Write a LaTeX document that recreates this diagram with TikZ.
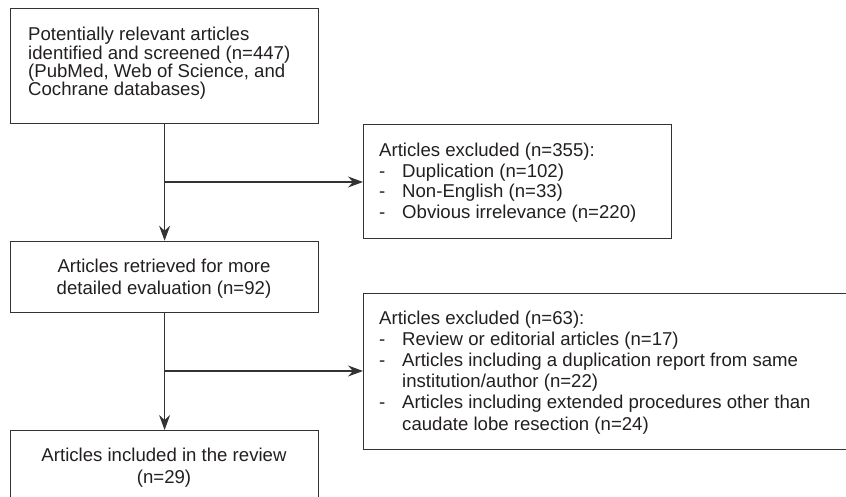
\documentclass[tikz,border=0pt]{standalone}
\usepackage{fontspec}
\setmainfont{Liberation Sans}
\usetikzlibrary{arrows.meta}
\definecolor{ln}{HTML}{333333}
\definecolor{tx}{HTML}{231F20}
\begin{document}
\begin{tikzpicture}[x=1pt,y=-1pt,
  box/.style={draw=ln, line width=1.2pt, rectangle, inner sep=0pt, anchor=north west},
  txt/.style={text=tx, inner sep=0pt, align=left, anchor=base west},
  ctxt/.style={text=tx, inner sep=0pt, align=center, anchor=base},
  arr/.style={draw=ln, line width=1.2pt, -{Stealth[length=15pt,width=11pt,inset=5pt]}}]
\useasboundingbox (0,0) rectangle (846,497);
\clip (0,0) rectangle (846,497);
% boxes
\node[box, minimum width=308pt, minimum height=115pt] (top) at (10,8) {};
\node[box, minimum width=308pt, minimum height=114pt] (ex1) at (363,124) {};
\node[box, minimum width=308pt, minimum height=71pt] (ret) at (10,240.7) {};
\node[box, minimum width=560pt, minimum height=156pt] (ex2) at (363,293) {};
\node[box, minimum width=308pt, minimum height=110pt] (inc) at (10,430) {};
% texts (anchored at the baseline of the last line)
\node[txt, font=\fontsize{18.6}{18.4}\selectfont] (ttop) at (28,96)
  {Potentially relevant articles\\identified and screened (n=447)\\(PubMed, Web of Science, and\\Cochrane databases)};
\node[txt, font=\fontsize{18.6}{20.5}\selectfont] (tex1) at (379,218.3)
  {Articles excluded (n=355):\\\makebox[23pt][l]{-}Duplication (n=102)\\\makebox[23pt][l]{-}Non-English (n=33)\\\makebox[23pt][l]{-}Obvious irrelevance (n=220)};
\node[ctxt, font=\fontsize{18.6}{21.7}\selectfont] (tret) at (164,294)
  {Articles retrieved for more\\detailed evaluation (n=92)};
\node[txt, font=\fontsize{18.6}{21.1}\selectfont] (tex2) at (379,430)
  {Articles excluded (n=63):\\\makebox[23pt][l]{-}Review or editorial articles (n=17)\\\makebox[23pt][l]{-}Articles including a duplication report from same\\\hspace*{23pt}institution/author (n=22)\\\makebox[23pt][l]{-}Articles including extended procedures other than\\\hspace*{23pt}caudate lobe resection (n=24)};
\node[ctxt, font=\fontsize{18.6}{21.7}\selectfont] (tinc) at (164,483.3)
  {Articles included in the review\\(n=29)};
% connectors
\coordinate (j1) at (164,182);
\coordinate (j2) at (164,371);
\draw[arr] (top.south) -- (ret.north);
\draw[arr] (j1) -- (j1 -| ex1.west);
\draw[arr] (ret.south) -- (inc.north);
\draw[arr] (j2) -- (j2 -| ex2.west);
\end{tikzpicture}
\end{document}
